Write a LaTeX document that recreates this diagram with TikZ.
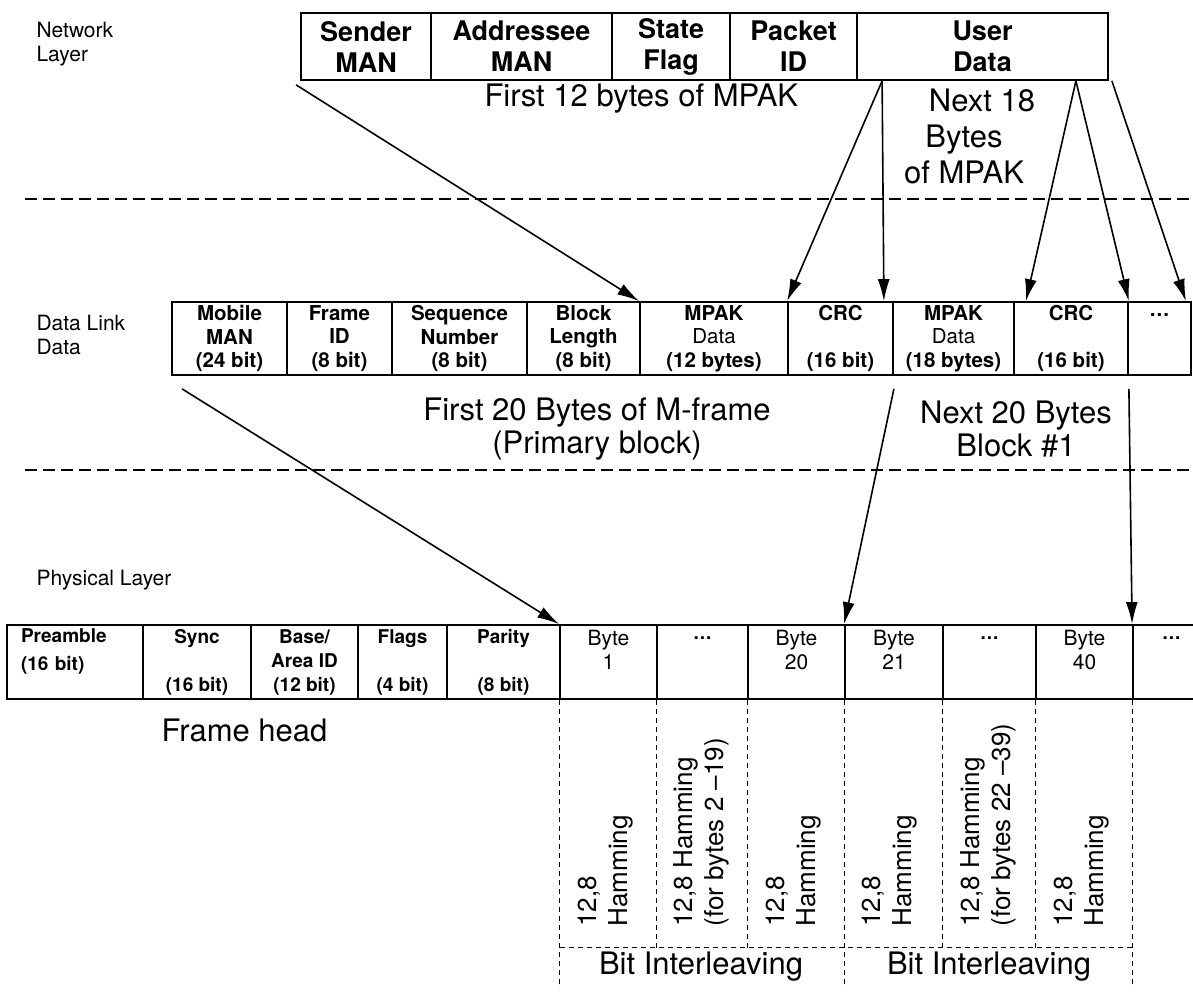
\documentclass[tikz,border=0pt]{standalone}
\usepackage{fontspec}
\setmainfont{TeX Gyre Heros}
\usepackage{tikz}
\usetikzlibrary{arrows.meta}
\tikzset{>={Latex[length=22pt,width=12pt]}}
\tikzset{
  layerlabel/.style={anchor=west, align=left, font=\fontsize{21}{24}\selectfont},
  bigtext/.style={align=center, font=\fontsize{31}{34}\selectfont},
  topcell/.style={draw, line width=1.8pt, minimum height=67pt, inner sep=0pt,
    align=center, font=\bfseries\fontsize{27}{31}\selectfont},
  linkcell/.style={draw, line width=1.8pt, minimum height=73pt, inner sep=0pt,
    align=center, font=\bfseries\fontsize{20.5}{23.5}\selectfont},
  physcell/.style={draw, line width=1.8pt, minimum height=74pt, inner sep=0pt,
    align=center, font=\bfseries\fontsize{19}{24}\selectfont},
  layersep/.style={line width=1.5pt, dash pattern=on 12pt off 6pt},
  codesep/.style={line width=1pt, dash pattern=on 5pt off 4pt},
  hamming/.style={rotate=90, anchor=west, align=left, font=\fontsize{26}{31}\selectfont},
  flow/.style={->, line width=1.6pt},
}
\newcommand{\threedots}{.\kern1pt.\kern1pt.}

\begin{document}
\begin{tikzpicture}[x=1pt, y=-1pt]
\useasboundingbox (0,0) rectangle (1193,992);

% ---------- Network layer ----------
\node[layerlabel] (netlabel) at (33,44) {Network\\Layer};

\foreach \xa/\xb/\nm/\txt in {301/431/sender/{Sender\\MAN}, 431/612/addressee/{Addressee\\MAN}, 612/730/state/{State\\Flag}, 730/857/packet/{Packet\\ID}, 857/1108/userdata/{User\\Data}}{
  \pgfmathsetmacro\cellw{\xb-\xa}
  \pgfmathsetmacro\cellx{(\xa+\xb)/2}
  \node[topcell, minimum width=\cellw pt] (\nm) at (\cellx,46.5) {\txt};
}

\node[bigtext, anchor=west] (first12) at (481,99) {First 12 bytes of MPAK};
\node[bigtext, font=\fontsize{31}{36}\selectfont] (next18) at (964,136) {\hspace*{36pt}Next 18\\Bytes\\of MPAK};

\draw[layersep] (25,199) -- (1193,199);

% ---------- Data link layer ----------
\node[layerlabel] (linklabel) at (33,335) {Data Link\\Data};

\foreach \xa/\xb/\nm/\txt in {172/287/mobile/{Mobile\\MAN\\(24 bit)}, 287/392/frameid/{Frame\\ID\\(8 bit)}, 392/527/seqno/{Sequence\\Number\\(8 bit)}, 527/640/blocklen/{Block\\Length\\(8 bit)}, 640/788/mpakA/{MPAK\\\mdseries Data\\\bfseries (12 bytes)}, 788/893/crcA/{CRC\\~\\(16 bit)}, 893/1014/mpakB/{MPAK\\\mdseries Data\\\bfseries (18 bytes)}, 1014/1128/crcB/{CRC\\~\\(16 bit)}, 1128/1191/moreA/{\threedots\\~\\~}}{
  \pgfmathsetmacro\cellw{\xb-\xa}
  \pgfmathsetmacro\cellx{(\xa+\xb)/2}
  \node[linkcell, minimum width=\cellw pt] (\nm) at (\cellx,338.5) {\txt};
}

\node[bigtext, font=\fontsize{31}{33}\selectfont] (first20) at (597,429) {First 20 Bytes of M-frame\\(Primary block)};
\node[bigtext, font=\fontsize{31}{33}\selectfont] (next20) at (1016,429) {Next 20 Bytes\\Block \#1};

\draw[layersep] (25,470) -- (1193,470);

% ---------- Physical layer ----------
\node[layerlabel] (physlabel) at (33,580) {Physical Layer};

\node[physcell, minimum width=136pt, text width=108pt, align=left] (preamble) at (75,662) {Preamble\\[4pt](16 bit)\\~};
\foreach \xa/\xb/\nm/\txt in {143/251/sync/{Sync\\~\\(16 bit)}, 251/358/basearea/{Base/\\Area ID\\(12 bit)}, 358/447/flags/{Flags\\~\\(4 bit)}, 447/560/parity/{Parity\\~\\(8 bit)}, 657/748/dotsA/{\threedots\\~\\~}, 943/1036/dotsB/{\threedots\\~\\~}, 1133/1210/dotsC/{\threedots\\~\\~}}{
  \pgfmathsetmacro\cellw{\xb-\xa}
  \pgfmathsetmacro\cellx{(\xa+\xb)/2}
  \node[physcell, minimum width=\cellw pt] (\nm) at (\cellx,662) {\txt};
}
\foreach \xa/\xb/\nm/\txt in {560/657/byteA/1, 748/845/byteB/20, 845/943/byteC/21, 1036/1133/byteD/40}{
  \pgfmathsetmacro\cellw{\xb-\xa}
  \pgfmathsetmacro\cellx{(\xa+\xb)/2}
  \node[physcell, font=\fontsize{21}{24}\selectfont, minimum width=\cellw pt] (\nm) at (\cellx,662) {Byte\\\txt\\~};
}

\node[bigtext, anchor=west] (framehead) at (158,730) {Frame head};

% coding columns
\draw[codesep] (byteA.south west) -- ++(0,288);
\draw[codesep] (byteC.south west) -- ++(0,288);
\draw[codesep] (dotsC.south west) -- ++(0,288);
\draw[codesep] (dotsA.south west) -- ++(0,248);
\draw[codesep] (byteB.south west) -- ++(0,248);
\draw[codesep] (dotsB.south west) -- ++(0,248);
\draw[codesep] (byteD.south west) -- ++(0,248);
\draw[codesep] (560,947) -- (1133,947);

\node[hamming] (hamA) at (606,930) {12,8\\Hamming};
\node[hamming] (hamB) at (701,930) {12,8 Hamming\\(for bytes 2 \textendash19)};
\node[hamming] (hamC) at (794,930) {12,8\\Hamming};
\node[hamming] (hamD) at (890,930) {12,8\\Hamming};
\node[hamming] (hamE) at (988,930) {12,8 Hamming\\(for bytes 22 \textendash39)};
\node[hamming] (hamF) at (1082,930) {12,8\\Hamming};

\node[bigtext] (bitA) at (701,967) {Bit Interleaving};
\node[bigtext] (bitB) at (989,967) {Bit Interleaving};

% ---------- Arrows ----------
\draw[flow] ([xshift=-4pt,yshift=-4pt]sender.south west) -- (mpakA.north west);
\draw[flow] ([xshift=26pt]userdata.south west) -- (crcA.north west);
\draw[flow] ([xshift=26pt]userdata.south west) -- ([xshift=-10pt]crcA.north east);
\draw[flow] ([xshift=-33pt]userdata.south east) -- ([xshift=11pt]mpakB.north east);
\draw[flow] ([xshift=-33pt]userdata.south east) -- (crcB.north east);
\draw[flow] ([xshift=3pt]userdata.south east) -- ([xshift=-6pt]moreA.north east);

\draw[flow] ([xshift=11pt,yshift=-13pt]mobile.south west) -- (byteA.north west);
\draw[flow] ([yshift=-13pt]crcA.south east) -- (byteC.north west);
\draw[flow] ([yshift=-13pt]crcB.south east) -- (dotsC.north west);

\end{tikzpicture}
\end{document}
